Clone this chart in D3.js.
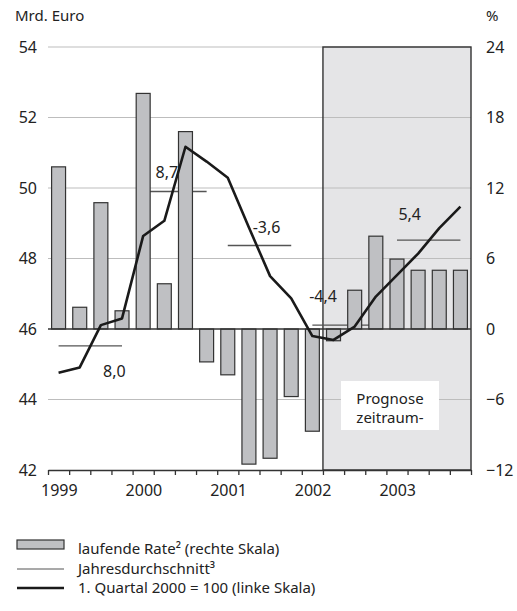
<!DOCTYPE html>
<html>
  <head>
    <meta charset="utf-8">
    <title>Quartalsverlauf</title>
    <script src="https://cdn.jsdelivr.net/npm/d3@7/dist/d3.min.js"></script>
    <style>
      body { margin: 0; background: #fff; }
      text { font-family: "Noto Sans", "Open Sans", sans-serif; fill: #222; }
    </style>
  </head>
  <body>
    <svg width="517" height="611" id="mainsvg"></svg>
    <script>
      // quarters 1999 Q1 .. 2003 Q4
      const quarters = ['99Q1','99Q2','99Q3','99Q4','00Q1','00Q2','00Q3','00Q4',
                        '01Q1','01Q2','01Q3','01Q4','02Q1','02Q2','02Q3','02Q4',
                        '03Q1','03Q2','03Q3','03Q4'];
      // laufende Rate, % (right scale)
      const rate = [13.8, 1.85, 10.75, 1.55, 20.05, 3.85, 16.8, -2.8,
                    -3.9, -11.5, -11.0, -5.75, -8.7, -1.0, 3.3, 7.9,
                    5.95, 5.0, 5.0, 5.0];
      // level, 1. Quartal 2000 = 100 (left scale, Mrd. Euro)
      const level = [44.76, 44.91, 46.11, 46.3, 48.64, 49.07, 51.17, 50.75,
                     50.29, 48.88, 47.5, 46.87, 45.8, 45.69, 46.07, 46.92,
                     47.53, 48.14, 48.86, 49.47];
      // annual averages (left scale) and their growth rates
      const years = ['1999', '2000', '2001', '2002', '2003'];
      const yearAvg = [45.52, 49.9, 48.37, 46.11, 48.52];
      const yearLabel = ['8,0', '8,7', '-3,6', '-4,4', '5,4'];
      const leftTicks = [42, 44, 46, 48, 50, 52, 54];
      const rightTicks = [-12, -6, 0, 6, 12, 18, 24];
      const forecastStart = 13; // from 2002 Q2

      // label placement for the annual values (dx from line centre, dy from line)
      const labelOffset = [[24, 31], [-8, -14], [7, -12], [-21, -23], [-19, -20]];

      const svg = d3.select('#mainsvg');
      const plotLeft = 48, plotRight = 471, plotTop = 47, plotBottom = 470;

      const xBand = d3.scaleBand().domain(quarters).range([plotLeft, plotRight])
        .paddingInner(0.34).paddingOuter(0.17);
      const xLin = d3.scaleLinear().domain([0, quarters.length]).range([plotLeft, plotRight]);
      const yLeft = d3.scaleLinear().domain([42, 54]).range([plotBottom, plotTop]);
      const yRight = d3.scaleLinear().domain([-12, 24]).range([plotBottom, plotTop]);
      const xc = (q) => xBand(q) + xBand.bandwidth() / 2;

      // forecast shading
      svg.append('rect')
        .attr('x', xLin(forecastStart)).attr('y', plotTop)
        .attr('width', xLin(quarters.length) - xLin(forecastStart))
        .attr('height', plotBottom - plotTop)
        .attr('fill', '#e5e5e7');

      // grid lines
      svg.append('g').selectAll('line')
        .data(leftTicks.filter(d => d !== 42 && d !== 46))
        .join('line')
        .attr('x1', plotLeft).attr('x2', plotRight)
        .attr('y1', d => yLeft(d)).attr('y2', d => yLeft(d))
        .attr('stroke', '#bdbdbd').attr('stroke-width', 1);

      // shading border
      svg.append('rect')
        .attr('x', xLin(forecastStart)).attr('y', plotTop)
        .attr('width', xLin(quarters.length) - xLin(forecastStart))
        .attr('height', plotBottom - plotTop)
        .attr('fill', 'none').attr('stroke', '#333').attr('stroke-width', 1.4);

      // annual averages
      const yearIdx = years.map((y, i) => i);
      svg.append('g').selectAll('line')
        .data(yearIdx)
        .join('line')
        .attr('x1', i => xc(quarters[i * 4]))
        .attr('x2', i => xc(quarters[i * 4 + 3]))
        .attr('y1', i => yLeft(yearAvg[i])).attr('y2', i => yLeft(yearAvg[i]))
        .attr('stroke', '#555').attr('stroke-width', 1.4);

      svg.append('g').selectAll('text')
        .data(yearIdx)
        .join('text')
        .attr('x', i => (xc(quarters[i * 4]) + xc(quarters[i * 4 + 3])) / 2 + labelOffset[i][0])
        .attr('y', i => yLeft(yearAvg[i]) + labelOffset[i][1])
        .attr('text-anchor', 'middle')
        .attr('font-size', 16)
        .text(i => yearLabel[i]);

      // bars
      svg.append('g').selectAll('rect')
        .data(quarters)
        .join('rect')
        .attr('x', q => xBand(q))
        .attr('width', xBand.bandwidth())
        .attr('y', (q, i) => yRight(Math.max(0, rate[i])))
        .attr('height', (q, i) => Math.abs(yRight(rate[i]) - yRight(0)))
        .attr('fill', '#bfc0c3').attr('stroke', '#333').attr('stroke-width', 1.2);

      // zero line
      svg.append('line')
        .attr('x1', plotLeft).attr('x2', plotRight)
        .attr('y1', yRight(0)).attr('y2', yRight(0))
        .attr('stroke', '#333').attr('stroke-width', 1.3);

      // level line
      const line = d3.line()
        .x((d, i) => xc(quarters[i]))
        .y(d => yLeft(d));
      svg.append('path')
        .datum(level)
        .attr('d', line)
        .attr('fill', 'none').attr('stroke', '#1a1a1a').attr('stroke-width', 2.6)
        .attr('stroke-linejoin', 'round');

      // x axis
      const xAxis = d3.axisBottom(xLin)
        .tickValues(d3.range(0, quarters.length + 1))
        .tickSize(5).tickSizeOuter(0)
        .tickFormat('');
      const xg = svg.append('g')
        .attr('transform', `translate(0, ${plotBottom})`)
        .call(xAxis);
      xg.selectAll('line, path').attr('stroke', '#333').attr('stroke-width', 1.3);

      svg.append('g').selectAll('text')
        .data(years)
        .join('text')
        .attr('x', (y, i) => xLin(i * 4) - 7)
        .attr('y', 496)
        .attr('font-size', 16)
        .text(d => d);

      // left axis labels
      const yAxisL = d3.axisLeft(yLeft).tickValues(leftTicks).tickSize(0).tickPadding(11);
      const lg = svg.append('g').attr('transform', `translate(${plotLeft}, 0)`).call(yAxisL);
      lg.select('.domain').remove();
      lg.selectAll('text').attr('font-size', 16).attr('font-family', null).attr('fill', '#222');

      // right axis labels
      const yAxisR = d3.axisRight(yRight).tickValues(rightTicks).tickSize(0).tickPadding(15);
      const rg = svg.append('g').attr('transform', `translate(${plotRight}, 0)`).call(yAxisR);
      rg.select('.domain').remove();
      rg.selectAll('text').attr('font-size', 16).attr('font-family', null).attr('fill', '#222');

      // units
      svg.append('text').attr('x', 15).attr('y', 21).attr('font-size', 15).text('Mrd. Euro');
      svg.append('text').attr('x', 486).attr('y', 21).attr('font-size', 15).text('%');

      // forecast label
      const px = (xLin(forecastStart) + xLin(quarters.length)) / 2 - 7;
      svg.append('rect').attr('x', px - 49).attr('y', 381).attr('width', 98).attr('height', 49)
        .attr('fill', '#fff');
      svg.append('text').attr('x', px).attr('y', 404).attr('text-anchor', 'middle')
        .attr('font-size', 15).text('Prognose');
      svg.append('text').attr('x', px).attr('y', 423).attr('text-anchor', 'middle')
        .attr('font-size', 15).text('zeitraum-');

      // legend
      const legend = svg.append('g');
      legend.append('rect').attr('x', 17).attr('y', 540).attr('width', 47).attr('height', 9)
        .attr('fill', '#bfc0c3').attr('stroke', '#333').attr('stroke-width', 1.2);
      legend.append('line').attr('x1', 17).attr('x2', 64).attr('y1', 569).attr('y2', 569)
        .attr('stroke', '#555').attr('stroke-width', 1.2);
      legend.append('line').attr('x1', 17).attr('x2', 64).attr('y1', 588).attr('y2', 588)
        .attr('stroke', '#1a1a1a').attr('stroke-width', 2.6);
      const legendText = ['laufende Rate² (rechte Skala)', 'Jahresdurchschnitt³',
                          '1. Quartal 2000 = 100 (linke Skala)'];
      legend.selectAll('text')
        .data(legendText)
        .join('text')
        .attr('x', 78)
        .attr('y', (d, i) => 554 + i * 19.5)
        .attr('font-size', 15)
        .text(d => d);
    </script>
  </body>
</html>
